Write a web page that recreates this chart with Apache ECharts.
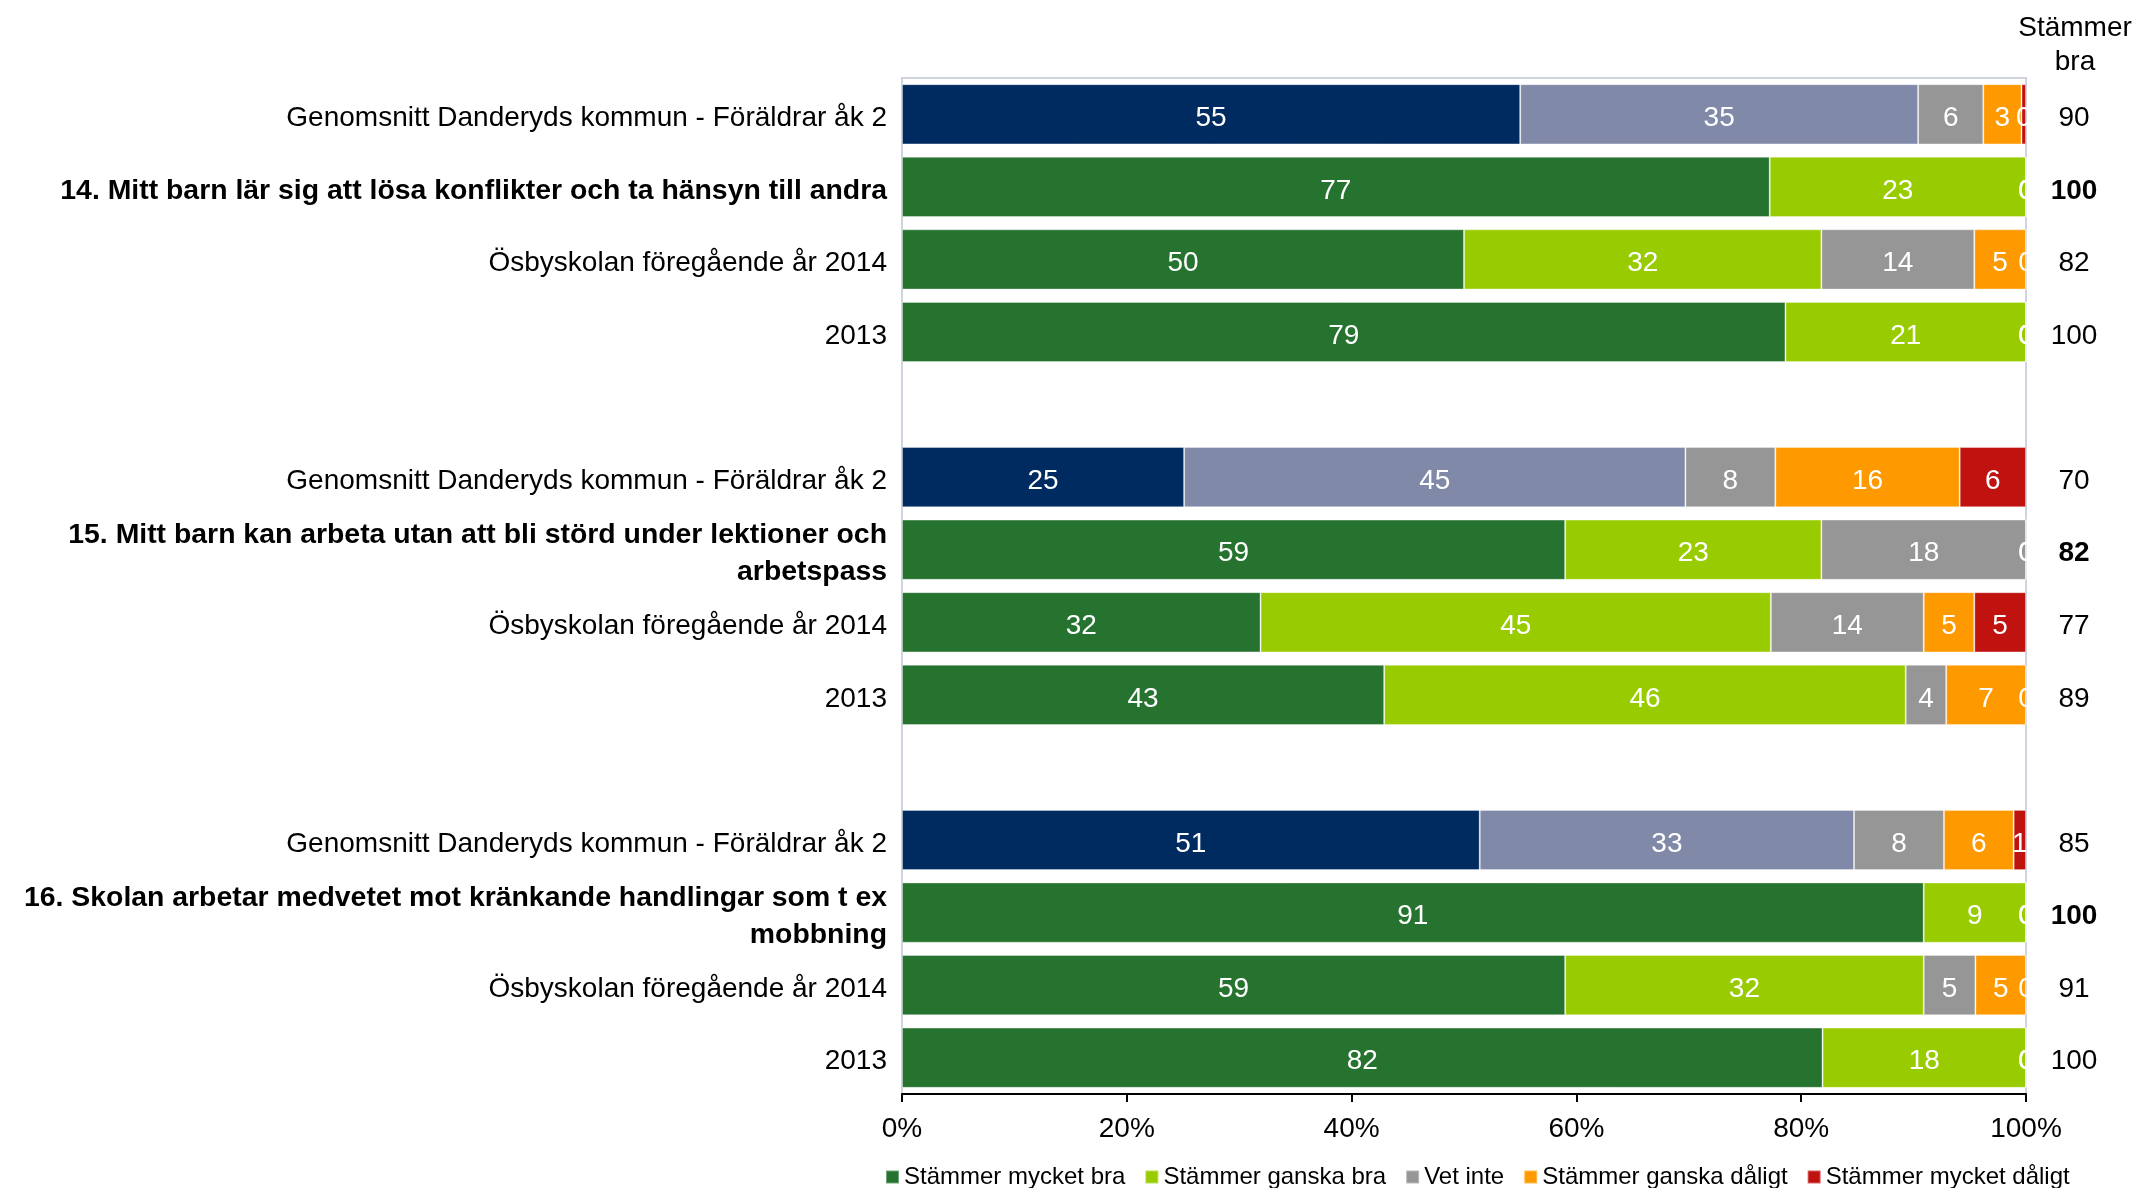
<!DOCTYPE html>
<html>
<head>
<meta charset="utf-8">
<script src="https://cdn.jsdelivr.net/npm/echarts@6/dist/echarts.min.js"></script>
<style>html,body{margin:0;padding:0;background:#fff}#c{width:2136px;height:1188px}</style>
</head>
<body>
<div id="c"></div>
<script>
var categories = [
  'Genomsnitt Danderyds kommun - Föräldrar åk 2',
  '14. Mitt barn lär sig att lösa konflikter och ta hänsyn till andra',
  'Ösbyskolan föregående år 2014',
  '2013',
  '',
  'Genomsnitt Danderyds kommun - Föräldrar åk 2',
  '15. Mitt barn kan arbeta utan att bli störd under lektioner och\narbetspass',
  'Ösbyskolan föregående år 2014',
  '2013',
  '',
  'Genomsnitt Danderyds kommun - Föräldrar åk 2',
  '16. Skolan arbetar medvetet mot kränkande handlingar som t ex\nmobbning',
  'Ösbyskolan föregående år 2014',
  '2013'
];
var boldRows = [1, 6, 11];
var averageRows = [0, 5, 10];
var seriesNames = ['Stämmer mycket bra', 'Stämmer ganska bra', 'Vet inte', 'Stämmer ganska dåligt', 'Stämmer mycket dåligt'];
var mycketBra    = [55.0, 77.2, 50.0, 78.6, null, 25.1, 59.0, 31.9, 42.9, null, 51.4, 90.9, 59.0, 81.9];
var ganskaBra    = [35.4, 22.8, 31.8, 21.4, null, 44.6, 22.8, 45.4, 46.4, null, 33.3,  9.1, 31.9, 18.1];
var vetInte      = [ 5.8,  0,   13.6,  0,   null,  8.0, 18.2, 13.6,  3.6, null,  8.0,  0,    4.6,  0];
var ganskaDaligt = [ 3.4,  0,    4.6,  0,   null, 16.4,  0,    4.5,  7.1, null,  6.2,  0,    4.5,  0];
var mycketDaligt = [ 0.4,  0,    0,    0,   null,  5.9,  0,    4.6,  0,   null,  1.1,  0,    0,    0];
var stammerBra   = [90, 100, 82, 100, null, 70, 82, 77, 89, null, 85, 100, 91, 100];
var xTicks = [0, 20, 40, 60, 80, 100];

var colors = ['#267330', '#99cc00', '#969696', '#ff9900', '#c0120f'];
var avgColors = ['#002b60', '#808aa8'];
var FONT = '"Liberation Sans", Arial, sans-serif';

var allValues = [mycketBra, ganskaBra, vetInte, ganskaDaligt, mycketDaligt];

var series = allValues.map(function (vals, si) {
  return {
    name: seriesNames[si],
    type: 'bar',
    stack: 'total',
    barCategoryGap: '17%',
    itemStyle: { color: colors[si], borderColor: 'rgba(255,255,255,0.35)', borderWidth: 1 },
    label: {
      show: true,
      position: 'inside',
      offset: [0, 4],
      color: '#fff',
      fontSize: 28,
      fontFamily: FONT,
      formatter: function (p) { return p.value == null ? '' : String(Math.round(p.value)); }
    },
    data: vals.map(function (v, i) {
      if (si < 2 && averageRows.indexOf(i) >= 0) {
        return { value: v, itemStyle: { color: avgColors[si] } };
      }
      return v;
    })
  };
});

var chart = echarts.init(document.getElementById('c'), null, { renderer: 'canvas' });
chart.setOption({
  animation: false,
  backgroundColor: '#fff',
  textStyle: { fontFamily: FONT },
  grid: {
    left: 902, right: 110, top: 78, bottom: 94,
    show: true, borderColor: '#cfd4df', borderWidth: 2, containLabel: false
  },
  legend: {
    left: 880, top: 1160,
    itemWidth: 13, itemHeight: 13, itemGap: 19,
    icon: 'rect',
    textStyle: { fontSize: 24, color: '#000', fontFamily: FONT },
    data: seriesNames
  },
  xAxis: {
    type: 'value', min: xTicks[0], max: xTicks[xTicks.length - 1], interval: 20,
    axisLine: { show: true, lineStyle: { color: '#000', width: 2 } },
    axisTick: { show: true, length: 8, lineStyle: { color: '#000', width: 2 } },
    splitLine: { show: false },
    axisLabel: { formatter: '{value}%', fontSize: 28, color: '#000', margin: 21, fontFamily: FONT }
  },
  yAxis: [{
    type: 'category', inverse: true, data: categories,
    axisLine: { show: false }, axisTick: { show: false },
    axisLabel: {
      margin: 15, fontSize: 28, color: '#000', fontFamily: FONT,
      padding: [8, 0, 0, 0],
      formatter: function (v, idx) {
        var t = categories[idx] || '';
        var st = boldRows.indexOf(idx) >= 0 ? 'b' : 'n';
        return t.split('\n').map(function (l) { return '{' + st + '|' + l + '}'; }).join('\n');
      },
      rich: {
        n: { fontSize: 28, color: '#000', fontFamily: FONT, lineHeight: 37 },
        b: { fontSize: 28.4, color: '#000', fontWeight: 'bold', fontFamily: FONT, lineHeight: 37 }
      }
    }
  }, {
    type: 'category', inverse: true, position: 'right', data: categories,
    axisLine: { show: false }, axisTick: { show: false },
    axisLabel: {
      margin: 48, align: 'center', fontSize: 28, color: '#000', fontFamily: FONT,
      padding: [8, 0, 0, 0],
      formatter: function (v, idx) {
        var b = stammerBra[idx];
        if (b == null) return '';
        return boldRows.indexOf(idx) >= 0 ? '{b|' + b + '}' : '{n|' + b + '}';
      },
      rich: {
        n: { fontSize: 28, color: '#000', fontFamily: FONT },
        b: { fontSize: 28, color: '#000', fontWeight: 'bold', fontFamily: FONT }
      }
    }
  }],
  graphic: [{
    type: 'rect', z: 100, silent: true,
    shape: { x: 2028, y: 70, width: 16, height: 1020 },
    style: { fill: '#fff' }
  }, {
    type: 'text', z: 100, silent: true,
    x: 2075, y: 11,
    style: { text: 'Stämmer\nbra', align: 'center', fontSize: 28, lineHeight: 34, fill: '#000', font: '28px ' + FONT }
  }],
  series: series
});
</script>
</body>
</html>
